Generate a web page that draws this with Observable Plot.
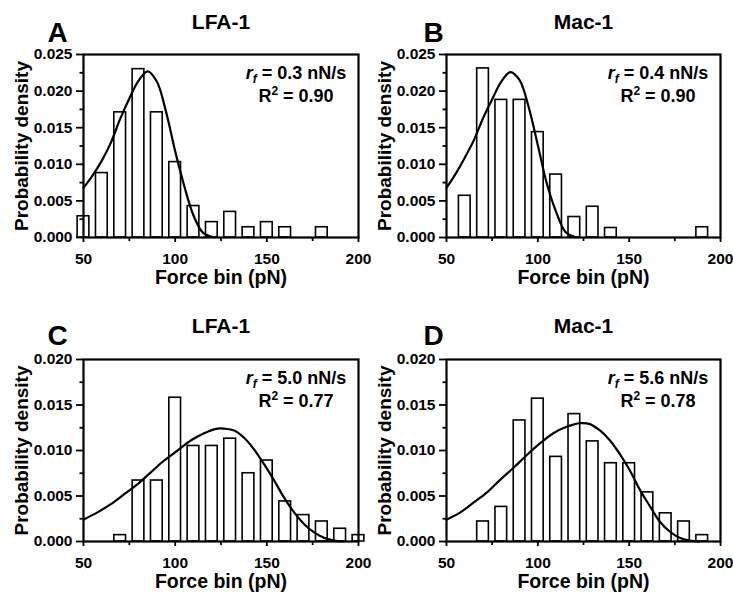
<!DOCTYPE html>
<html><head><meta charset="utf-8">
<script src="https://cdn.jsdelivr.net/npm/d3@7"></script>
<script src="https://cdn.jsdelivr.net/npm/@observablehq/plot@0.6"></script>
<style>
body{margin:0;background:#fff;}
#fig{position:relative;width:733px;height:593px;background:#fff;font-family:Arial,"Liberation Sans",sans-serif;}
#fig svg{position:absolute;overflow:visible;}
</style></head><body><div id="fig"></div>
<script>
// ---- Panel A: LFA-1, rf = 0.3 nN/s ----
const forceA   = [50, 60, 70, 80, 90, 100, 110, 120, 130, 140, 150, 160, 180];
const densityA = [0.0029, 0.0088, 0.0171, 0.0230, 0.0171, 0.0103, 0.0043, 0.0021, 0.0035, 0.0014, 0.0021, 0.0014, 0.0014];
const fitForceA   = [50, 55, 60, 65, 70, 75, 80, 85, 90, 95, 100, 105, 110, 115, 120];
const fitDensityA = [0.0068, 0.0085, 0.0105, 0.0130, 0.0162, 0.0190, 0.0214, 0.0227, 0.0213, 0.0172, 0.0118, 0.0070, 0.0030, 0.0007, 0.0001];

// ---- Panel B: Mac-1, rf = 0.4 nN/s ----
const forceB   = [60, 70, 80, 90, 100, 110, 120, 130, 140, 190];
const densityB = [0.0057, 0.0231, 0.0188, 0.0188, 0.0144, 0.0086, 0.0028, 0.0042, 0.0013, 0.0014];
const fitForceB   = [50, 55, 60, 65, 70, 75, 80, 85, 90, 95, 100, 105, 110, 115, 120];
const fitDensityB = [0.0068, 0.0087, 0.0109, 0.0133, 0.0163, 0.0189, 0.0213, 0.0226, 0.0215, 0.0178, 0.0126, 0.0073, 0.0035, 0.0008, 0.0001];

// ---- Panel C: LFA-1, rf = 5.0 nN/s ----
const forceC   = [70, 80, 90, 100, 110, 120, 130, 140, 150, 160, 170, 180, 190, 200];
const densityC = [0.0007, 0.0067, 0.0067, 0.0158, 0.0105, 0.0105, 0.0113, 0.0075, 0.0089, 0.0044, 0.0029, 0.0022, 0.0014, 0.0007];
const fitForceC   = [50, 57.6, 64.9, 72.2, 79.5, 86.7, 94, 101.3, 108.5, 115.8, 123.1, 126.7, 132.2, 137.6, 143.1, 148.5, 154, 159.5, 164.9, 170.4, 175.8, 181.3, 186.7, 192.2];
const fitDensityC = [0.0024, 0.0032, 0.0041, 0.0052, 0.0063, 0.0076, 0.0089, 0.0100, 0.0111, 0.0119, 0.0124, 0.0124, 0.0122, 0.0114, 0.0101, 0.0085, 0.0067, 0.0048, 0.0032, 0.0019, 0.0010, 0.0004, 0.0001, 0.0000];

// ---- Panel D: Mac-1, rf = 5.6 nN/s ----
const forceD   = [70, 80, 90, 100, 110, 120, 130, 140, 150, 160, 170, 180, 190];
const densityD = [0.0022, 0.0038, 0.0133, 0.0157, 0.0093, 0.0140, 0.0110, 0.0086, 0.0086, 0.0054, 0.0031, 0.0022, 0.0007];
const fitForceD   = [50, 57.6, 64.9, 72.2, 79.5, 86.7, 94, 101.3, 108.5, 115.8, 123.1, 128.5, 134, 139.5, 144.9, 150.4, 155.8, 161.3, 166.7, 172.2, 177.6, 183.1, 188.5];
const fitDensityD = [0.0024, 0.0032, 0.0043, 0.0054, 0.0068, 0.0081, 0.0095, 0.0108, 0.0119, 0.0126, 0.0130, 0.0129, 0.0122, 0.0111, 0.0096, 0.0078, 0.0057, 0.0039, 0.0022, 0.0011, 0.0004, 0.0001, 0.0000];

// ---- Text / ticks ----
const letters = ["A", "B", "C", "D"];
const titles = ["LFA-1", "Mac-1", "LFA-1", "Mac-1"];
const rates = ["0.3", "0.4", "5.0", "5.6"];
const r2s = ["0.90", "0.90", "0.77", "0.78"];
const xLabel = "Force bin (pN)";
const yLabel = "Probability density";
const xTicks = [50, 100, 150, 200];
const xMinor = [75, 125, 175];
const yTicksTop = [0, 0.005, 0.010, 0.015, 0.020, 0.025];
const yMinorTop = [0.0025, 0.0075, 0.0125, 0.0175, 0.0225];
const yTicksBottom = [0, 0.005, 0.010, 0.015, 0.020];
const yMinorBottom = [0.0025, 0.0075, 0.0125, 0.0175];

const BAR_HALF = 3.2;
const fig = document.getElementById("fig");
const FONT = "Arial, 'Liberation Sans', sans-serif";

const panels = [
  {force: forceA, dens: densityA, ff: fitForceA, fd: fitDensityA, yMax: 0.025, yT: yTicksTop, yM: yMinorTop,
   left: 0, top: 0, width: 366, height: 290, mL: 83, mR: 8, mT: 54, mB: 53, letterDx: -36, letterDy: -12.5, titleDy: -25.7},
  {force: forceB, dens: densityB, ff: fitForceB, fd: fitDensityB, yMax: 0.025, yT: yTicksTop, yM: yMinorTop,
   left: 366, top: 0, width: 367, height: 290, mL: 80, mR: 13, mT: 54, mB: 53, letterDx: -23, letterDy: -12.5, titleDy: -25.7},
  {force: forceC, dens: densityC, ff: fitForceC, fd: fitDensityC, yMax: 0.020, yT: yTicksBottom, yM: yMinorBottom,
   left: 0, top: 290, width: 366, height: 303, mL: 83, mR: 8, mT: 69, mB: 52, letterDx: -36, letterDy: -15, titleDy: -27},
  {force: forceD, dens: densityD, ff: fitForceD, fd: fitDensityD, yMax: 0.020, yT: yTicksBottom, yM: yMinorBottom,
   left: 366, top: 290, width: 367, height: 303, mL: 80, mR: 13, mT: 69, mB: 52, letterDx: -23, letterDy: -15, titleDy: -27}
];

panels.forEach((p, i) => {
  const bars = p.force.map((f, j) => ({f, d: p.dens[j]}));
  const fit = p.ff.map((f, j) => ({f, d: p.fd[j]}));
  const svg = Plot.plot({
    width: p.width, height: p.height,
    marginLeft: p.mL, marginRight: p.mR, marginTop: p.mT, marginBottom: p.mB,
    style: {background: "transparent", fontFamily: FONT, fontWeight: "bold", color: "black"},
    x: {domain: [50, 200], label: null},
    y: {domain: [0, p.yMax], label: null},
    marks: [
      Plot.rectY(bars, {x1: d => d.f - BAR_HALF, x2: d => d.f + BAR_HALF, y: "d", fill: "white", stroke: "black", strokeWidth: 1.6}),
      Plot.line(fit, {x: "f", y: "d", curve: "catmull-rom", stroke: "black", strokeWidth: 2.2}),
      Plot.frame({stroke: "black", strokeWidth: 2.2}),
      Plot.axisX({ticks: xTicks, tickSize: 5, tickPadding: 10, tickFormat: d3.format("d"), fontSize: 15.5, fontWeight: "bold", strokeWidth: 1.8, label: null}),
      Plot.axisX({ticks: xMinor, tickSize: 4, tickFormat: () => "", strokeWidth: 1.8, label: null}),
      Plot.axisY({ticks: p.yT, tickSize: 7, tickPadding: 4, tickFormat: d3.format(".3f"), fontSize: 15.5, fontWeight: "bold", strokeWidth: 1.8, label: null}),
      Plot.axisY({ticks: p.yM, tickSize: 3.5, tickFormat: () => "", strokeWidth: 1.8, label: null}),
      Plot.text([xLabel], {frameAnchor: "bottom", dy: 46.5, lineAnchor: "bottom", fontSize: 19.5, fontWeight: "bold"}),
      Plot.text([yLabel], {frameAnchor: "left", rotate: -90, dx: -56, lineAnchor: "bottom", textAnchor: "middle", fontSize: 19, fontWeight: "bold"}),
      Plot.text([titles[i]], {frameAnchor: "top", dy: p.titleDy, lineAnchor: "bottom", fontSize: 21, fontWeight: "bold"}),
      Plot.text([letters[i]], {frameAnchor: "top-left", dx: p.letterDx, dy: p.letterDy, lineAnchor: "bottom", textAnchor: "start", fontSize: 28, fontWeight: "bold"})
    ]
  });
  svg.style.left = p.left + "px";
  svg.style.top = p.top + "px";
  // annotation text with italic subscript / superscript
  const cx = p.width - p.mR - 62;
  const s = d3.select(svg);
  const t1 = s.append("text").attr("x", cx).attr("y", p.mT + 25).attr("text-anchor", "middle")
    .attr("font-size", 18).attr("font-weight", "bold").attr("font-family", FONT).attr("fill", "black");
  t1.append("tspan").attr("font-style", "italic").text("r");
  t1.append("tspan").attr("font-style", "italic").attr("font-size", 12).attr("dy", 4).text("f");
  t1.append("tspan").attr("dy", -4).text(" = " + rates[i] + " nN/s");
  const t2 = s.append("text").attr("x", cx).attr("y", p.mT + 48).attr("text-anchor", "middle")
    .attr("font-size", 18).attr("font-weight", "bold").attr("font-family", FONT).attr("fill", "black");
  t2.append("tspan").text("R");
  t2.append("tspan").attr("font-size", 12).attr("dy", -7).text("2");
  t2.append("tspan").attr("dy", 7).text(" = " + r2s[i]);
  fig.appendChild(svg);
});
</script></body></html>
